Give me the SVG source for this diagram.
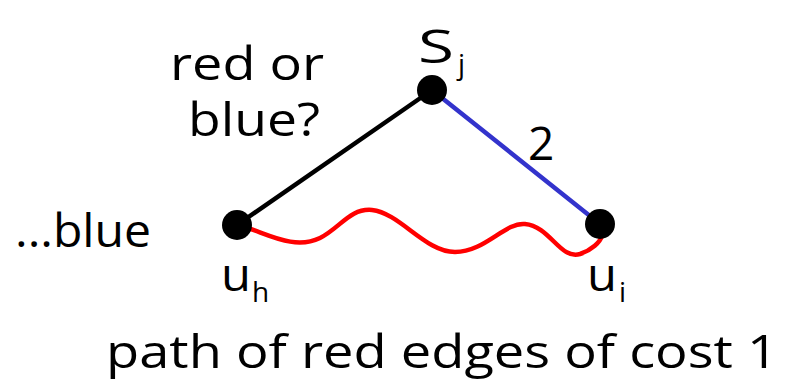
<svg xmlns="http://www.w3.org/2000/svg" width="785" height="381" viewBox="0 0 785 381">
<style>
text{font-family:"Comic Sans MS","Open Sans","DejaVu Sans",sans-serif;fill:#000;font-size:46px}
.sub{font-size:28px}
.e{fill:none;stroke-width:4.5;stroke-linecap:round}
</style>
<rect width="785" height="381" fill="#fff"/>
<g id="connectors">
<line class="e" x1="432" y1="90" x2="237" y2="225" stroke="#000"/>
<line class="e" x1="432" y1="90" x2="600" y2="224" stroke="#3333cc"/>
<path class="e" stroke="#ff0000" d="M245,227 C270,235 295,250 320,238 C340,228 350,208 372,210 C400,213 425,252 455,252 C485,252 505,222 525,224 C550,226 560,260 580,254 C592,250 600,242 602,236"/>
</g>
<g id="node-sj">
<circle cx="432" cy="90" r="15" fill="#000"/>
<text x="418" y="63" textLength="36" lengthAdjust="spacingAndGlyphs">S</text>
<text class="sub" x="458" y="74">j</text>
</g>
<g id="node-uh">
<circle cx="237" cy="225" r="15" fill="#000"/>
<text x="221" y="291" textLength="30" lengthAdjust="spacingAndGlyphs">u</text>
<text class="sub" x="252" y="302">h</text>
</g>
<g id="node-ui">
<circle cx="600" cy="224" r="15" fill="#000"/>
<text x="587" y="291" textLength="30" lengthAdjust="spacingAndGlyphs">u</text>
<text class="sub" x="619" y="302">i</text>
</g>
<g id="labels">
<text x="170" y="80" textLength="154" lengthAdjust="spacingAndGlyphs">red or</text>
<text x="188" y="136" textLength="132" lengthAdjust="spacingAndGlyphs">blue?</text>
<text x="528" y="160">2</text>
<text x="15" y="247" textLength="136" lengthAdjust="spacingAndGlyphs">...blue</text>
<text x="106" y="368" textLength="672" lengthAdjust="spacingAndGlyphs">path of red edges of cost 1</text>
</g>
</svg>
